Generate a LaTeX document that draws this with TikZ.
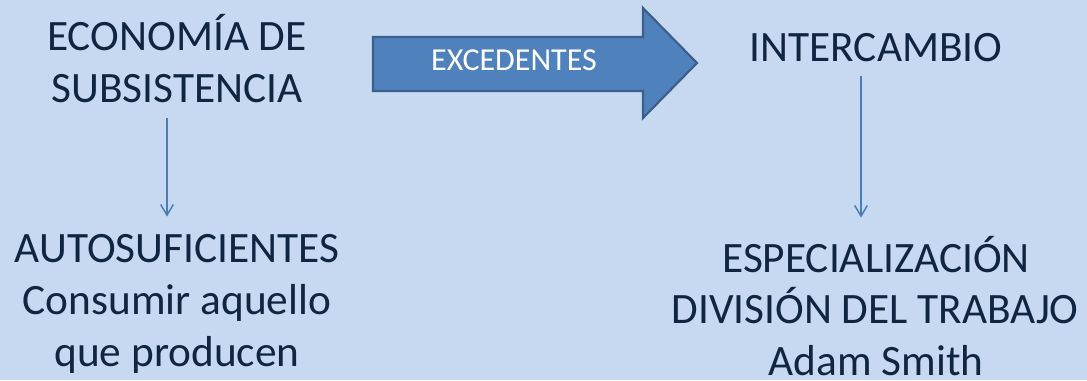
\documentclass[tikz,border=0pt]{standalone}
\usepackage{fontspec}
\setmainfont{Carlito}
\usetikzlibrary{arrows.meta}
\definecolor{bg}{HTML}{C6D9F1}
\definecolor{txt}{HTML}{10253F}
\definecolor{afill}{HTML}{4F81BD}
\definecolor{aline}{HTML}{3A5F8B}
\definecolor{conncol}{HTML}{4A7EBB}
\tikzset{
  lbl/.style={anchor=base, inner sep=0pt, text=txt, font=\fontsize{32.5}{39}\selectfont},
  arrlbl/.style={anchor=base, inner sep=0pt, text=white, font=\fontsize{24}{29}\selectfont},
  conn/.style={draw=conncol, line width=1.1pt, -{Straight Barb[length=8pt,width=9.5pt,line width=1.1pt]}},
  bigarrow/.style={fill=afill, draw=aline, line width=1.6pt, line join=miter}
}
\begin{document}
\begin{tikzpicture}[x=0.75pt,y=-0.75pt]
\fill[bg] (0,0) rectangle (1087,380);
\useasboundingbox (0,0) rectangle (1087,380);
% big arrow
\draw[bigarrow] (373,37) -- (643,37) -- (643,8) -- (697,63) -- (643,118) -- (643,91) -- (373,91) -- cycle;
\node[arrlbl] (exc) at (514,70) {EXCEDENTES};
% left block
\node[lbl] (econ) at (177,50) {ECONOMÍA DE};
\node[lbl] (subs) at (177,102) {SUBSISTENCIA};
\node[lbl] (auto) at (177,262) {AUTOSUFICIENTES};
\node[lbl] (cons) at (177,314) {Consumir aquello};
\node[lbl] (prod) at (177,366) {que producen};
% right block
\node[lbl] (inter) at (876,61) {INTERCAMBIO};
\node[lbl] (espe) at (876,272) {ESPECIALIZACIÓN};
\node[lbl] (divi) at (875,323) {DIVISIÓN DEL TRABAJO};
\node[lbl] (adam) at (876,375) {Adam Smith};
% connectors
\draw[conn, shorten <=11.25pt, shorten >=12.75pt] ([xshift=-7.5pt]subs.south) -- ([xshift=-7.5pt]subs.south |- auto.north);
\draw[conn, shorten <=10.5pt] ([xshift=-11.25pt]inter.south) -- ++(0,156);
\end{tikzpicture}
\end{document}
